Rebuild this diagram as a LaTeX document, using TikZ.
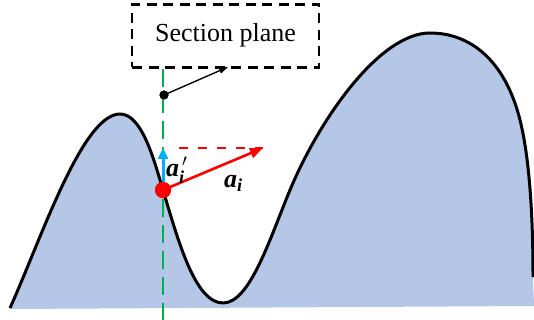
\documentclass[tikz,border=0pt]{standalone}
\usepackage{amsmath}
\usepackage{fontspec}
\setmainfont{Liberation Serif}
\usetikzlibrary{arrows.meta}
\definecolor{fillblue}{HTML}{B4C7E7}
\definecolor{lineGreen}{HTML}{00B050}
\definecolor{arrBlue}{HTML}{00B0F0}
\tikzset{
  curveline/.style={line width=3pt, black, line join=round},
  secbox/.style={draw, line width=2.3pt, dash pattern=on 10pt off 6.5pt, minimum width=187pt, minimum height=63pt, inner sep=0pt},
  greenline/.style={lineGreen, line width=2.8pt, dash pattern=on 18pt off 8pt},
  redarrow/.style={red, line width=2.6pt, -{Triangle[length=13pt,width=10pt]}},
  bluearrow/.style={arrBlue, line width=3pt, -{Triangle[length=11pt,width=10pt]}},
  reddash/.style={red, line width=2pt, dash pattern=on 9pt off 10pt},
  blackarrow/.style={black, line width=1.4pt, -{Triangle[length=9pt,width=6pt]}},
  lbl/.style={font=\fontsize{26}{30}\selectfont, inner sep=0pt}
}
\def\curvepath{(10,308) .. controls (40,242) and (82,114) .. (120,114)
  .. controls (142,114) and (154,160) .. (163,190)
  .. controls (178,240) and (195,303) .. (223,303)
  .. controls (250,303) and (270,238) .. (290,190)
  .. controls (320,118) and (380,33) .. (430,33)
  .. controls (470,33) and (505,60) .. (520,120)
  .. controls (530,160) and (533,220) .. (533,277)}
\begin{document}
\begin{tikzpicture}[x=1pt,y=-1pt]
\useasboundingbox (0,0) rectangle (534,320);
\fill[fillblue] \curvepath -- (534,306) -- (10,309) -- cycle;
\draw[curveline] \curvepath;

\node[secbox, lbl] (box) at (225.5,36) {\strut Section plane};

\node[circle, fill=red, inner sep=0pt, minimum size=16pt] (P) at (163,190) {};
\node[circle, fill=black, inner sep=0pt, minimum size=9pt] (D) at (164,95) {};
\coordinate (bot) at (163,320);
\coordinate (tipR) at (263,148);
\coordinate (tipB) at (163,148);
\coordinate (dashS) at (179,148);
\coordinate (boxhit) at (228,67);

\draw[greenline] (P |- box.south) -- (bot);
\draw[reddash] (dashS) -- (tipR);
\draw[bluearrow] (P.center) -- (tipB);
\draw[redarrow] (P.center) -- (tipR);
\draw[blackarrow] (D.center) -- (boxhit);
\node[circle, fill=red, inner sep=0pt, minimum size=16pt] at (P) {};
\node[circle, fill=black, inner sep=0pt, minimum size=9pt] at (D) {};

\node[lbl, anchor=base west] (la) at (166,176) {$\textbf{\textit{a}}_{\textbf{\textit{i}}}^{\,\prime}$};
\node[lbl, anchor=base west] (lb) at (224,187) {$\textbf{\textit{a}}_{\textbf{\textit{i}}}$};
\end{tikzpicture}
\end{document}
